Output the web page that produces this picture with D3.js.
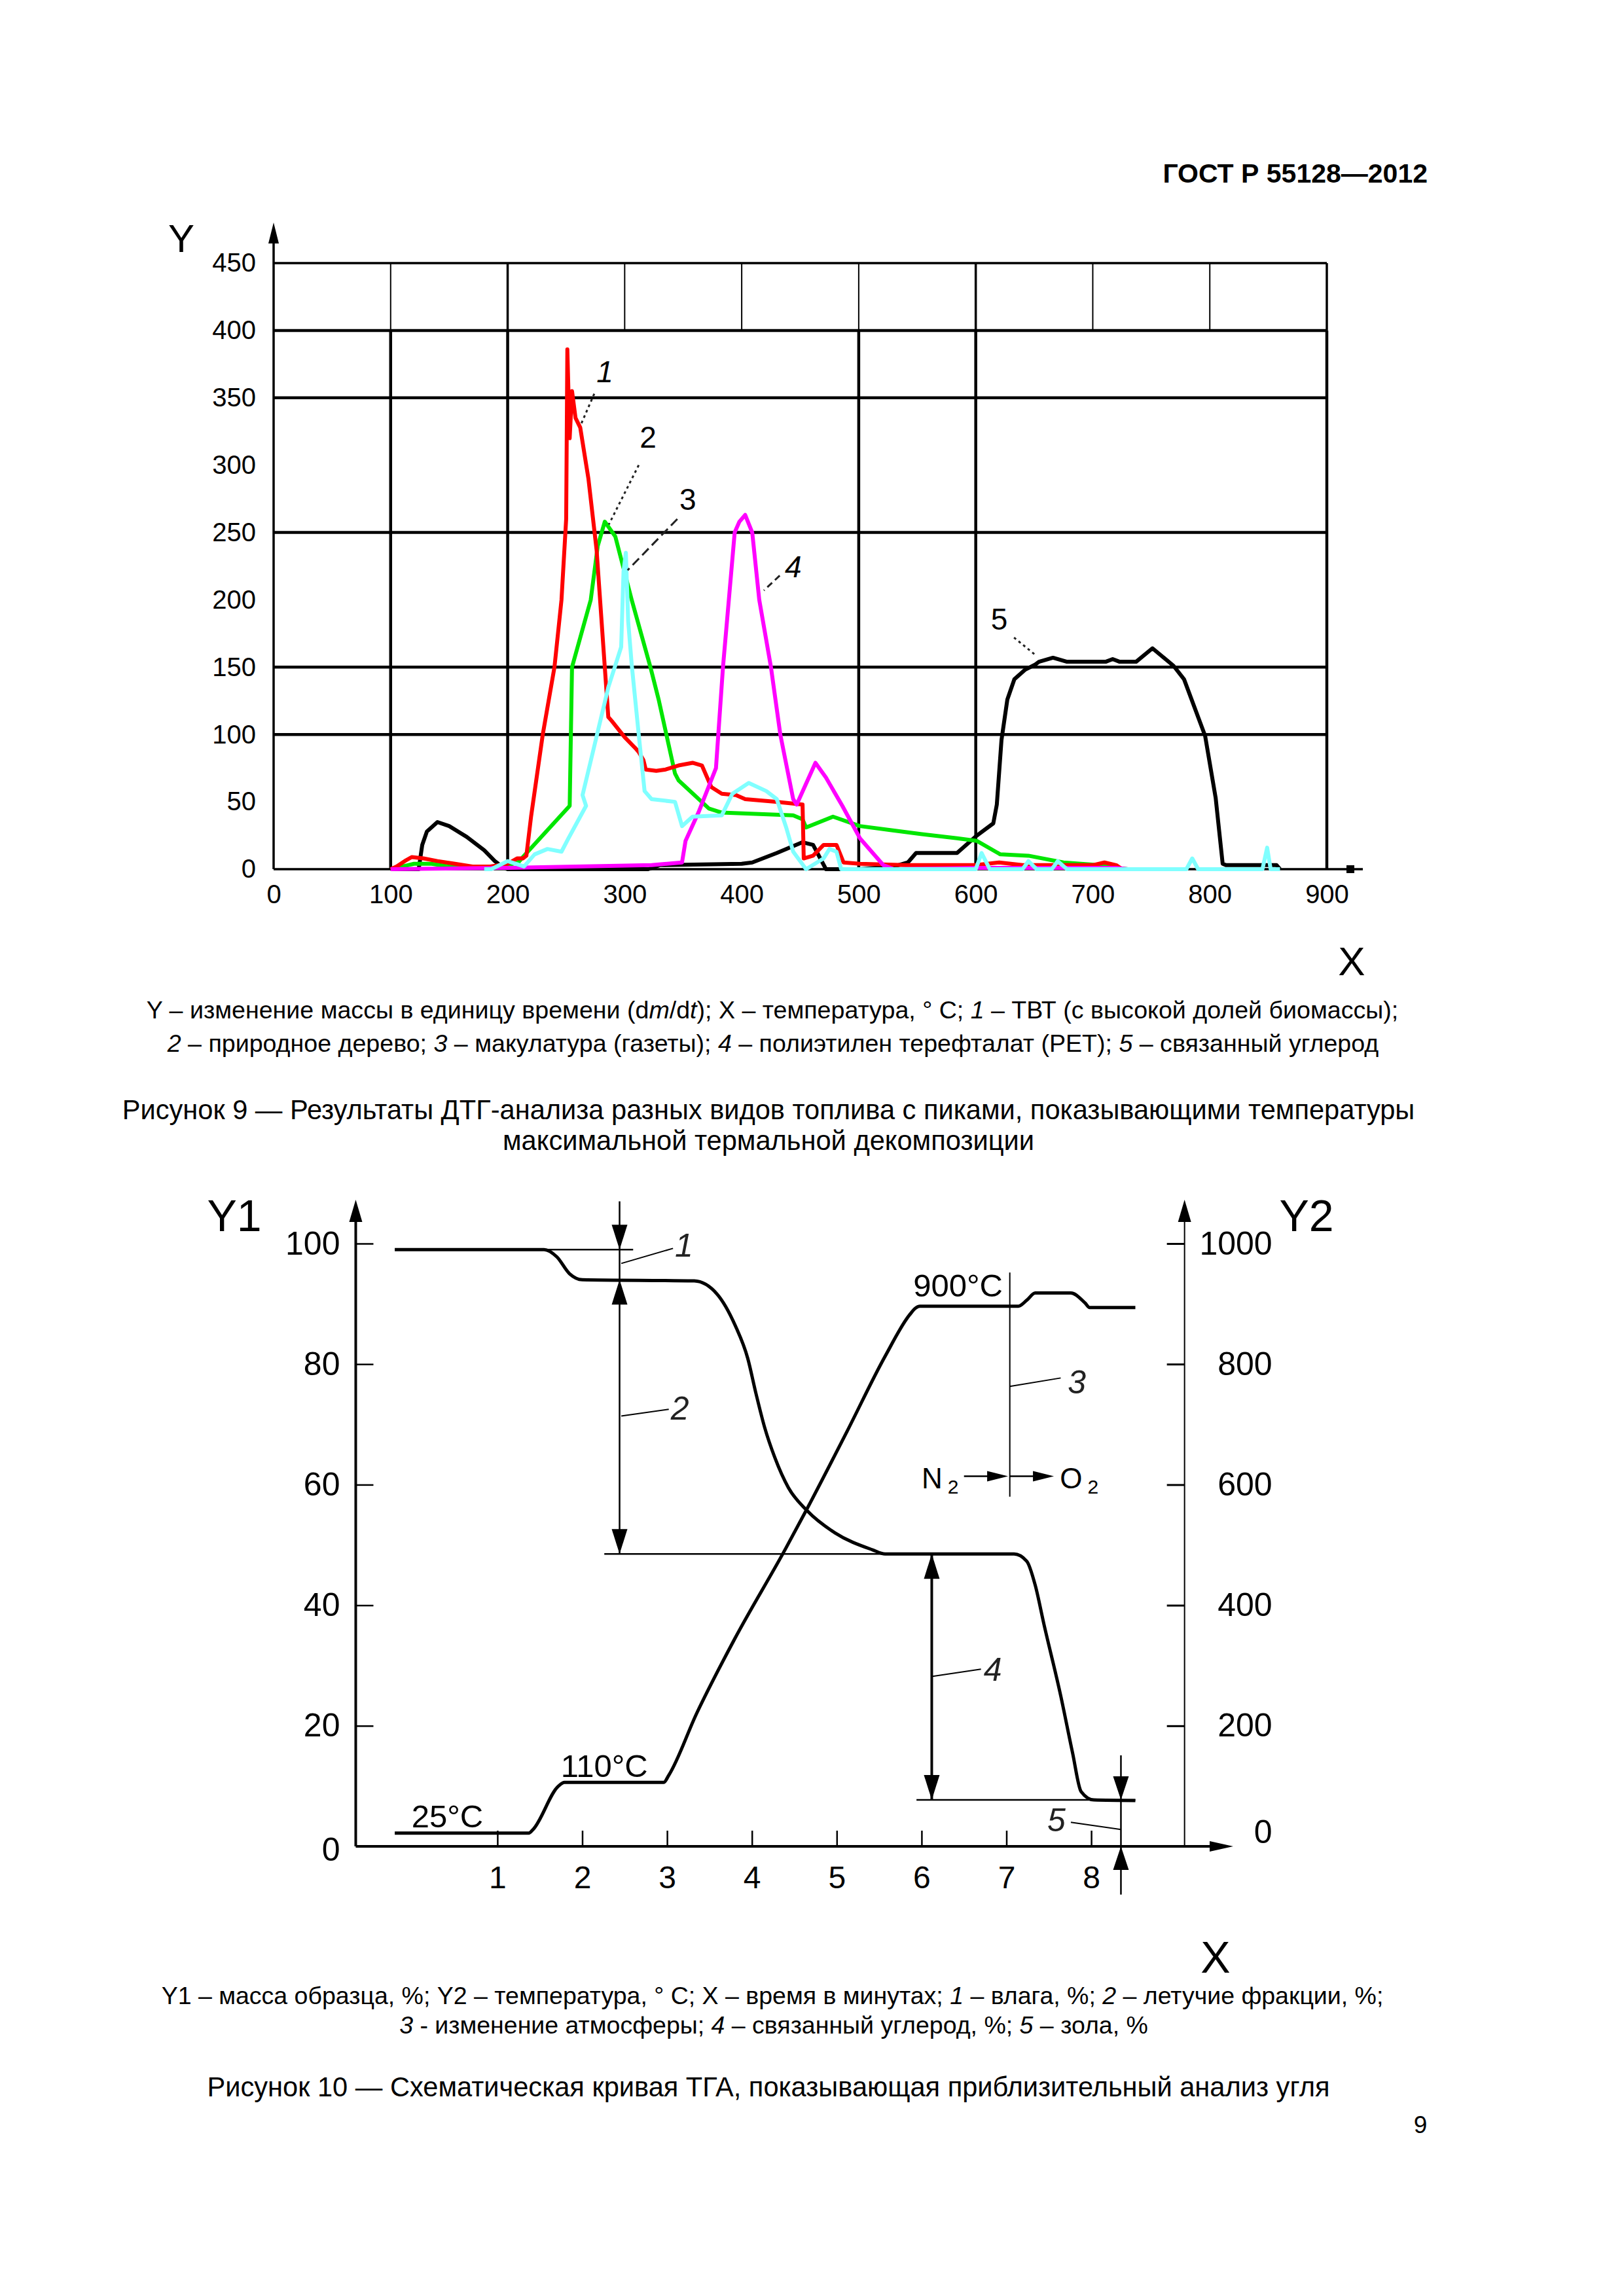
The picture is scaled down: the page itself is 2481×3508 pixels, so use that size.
<!DOCTYPE html>
<html>
<head>
<meta charset="utf-8">
<script src="https://cdn.jsdelivr.net/npm/d3@7"></script>
<style>
body { margin: 0; background: #fff; }
svg { display: block; font-family: "Liberation Sans", Arial, sans-serif; }
</style>
</head>
<body>
<div id="page"></div>
<script>
// ---------- Figure 9: DTG curves, x = temperature (°C), y = dm/dt ----------
var dtgTicksX = [0, 100, 200, 300, 400, 500, 600, 700, 800, 900];
var dtgTicksY = [0, 50, 100, 150, 200, 250, 300, 350, 400, 450];
var dtgGridY = [100, 150, 250, 350, 400, 450];
var dtgGridXMain = [100, 200, 500, 600, 900];
var dtgGridXTop = [100, 200, 300, 400, 500, 600, 700, 800, 900];

// 1 - TBT (red)
var curve1Red = [[100,0],[105,2],[112,6],[118,9],[128,8],[140,6],[155,4],[170,2],[185,2],[200,4],[208,8],[213,8],
	[216,10],[220,39],[230,100],[240,150],[246,200],[250,260],[251,386],[253,320],[255,355],[258,335],[262,328],
	[269,290],[276,237],[283,150],[286,113],[289,110],[300,98],[309,90],[312,87],[316,81],[318,74],[327,73],
	[335,74],[346,77],[358,79],[366,77],[374,61],[383,56],[395,55],[403,52],[429,50],[452,48],[453,8],[461,10],
	[470,18],[481,18],[487,5],[501,4],[540,3],[600,3],[620,5],[640,3],[700,3],[710,5],[720,3],[725,0]];
// 2 - natural wood (green)
var curve2Green = [[100,0],[110,2],[120,4],[135,4],[150,2],[170,1],[190,1],[200,3],[209,5],[214,10],[253,47],
	[255,150],[271,200],[277,240],[283,258],[292,247],[306,200],[322,150],[329,126],[343,71],[346,66],[372,45],
	[383,42],[444,40],[452,37],[455,31],[478,39],[501,32],[527,29],[554,26],[584,23],[601,21],[621,11],[645,10],
	[675,5],[705,3],[720,1],[730,0]];
// 3 - newspaper (cyan)
var curve3Cyan = [[180,0],[186,0],[200,6],[214,2],[223,11],[234,15],[246,13],[252,23],[267,47],[264,55],[272,84],
	[286,135],[297,165],[299,221],[301,235],[303,184],[306,152],[312,100],[317,58],[323,52],[343,50],[349,32],
	[358,39],[383,40],[392,56],[406,64],[421,58],[430,52],[438,31],[444,13],[455,0],[470,8],[475,15],[481,13],
	[485,0],[600,0],[605,12],[612,0],[640,0],[645,6],[652,0],[665,0],[670,6],[678,0],[780,0],[785,8],[790,0],
	[845,0],[849,16],[852,0],[860,0]];
// 4 - PET (magenta)
var curve4Magenta = [[100,0],[200,1],[323,3],[349,5],[352,21],[363,42],[378,75],[384,150],[389,200],[394,250],
	[398,258],[403,263],[409,250],[415,200],[425,150],[433,100],[444,52],[447,48],[463,79],[472,68],[486,47],
	[501,23],[521,3],[530,0],[600,1],[720,1],[730,0]];
// 5 - fixed carbon (black)
var curve5Black = [[100,0],[124,0],[127,18],[131,28],[140,35],[150,32],[165,24],[180,14],[189,6],[195,2],[200,0],
	[320,0],[330,3],[400,4],[409,5],[430,12],[452,20],[461,18],[472,0],[500,0],[530,2],[542,5],[549,12],[584,12],
	[601,25],[615,34],[618,48],[622,96],[627,126],[633,141],[642,148],[651,152],[654,154],[666,157],[678,154],
	[711,154],[717,156],[723,154],[737,154],[751,164],[769,151],[778,141],[796,99],[805,53],[811,4],[814,3],
	[857,3],[860,0]];

// ---------- Figure 10: TGA curve, x = time (min) ----------
var tgaTicksX = [1, 2, 3, 4, 5, 6, 7, 8];
var tgaTicksY1 = [0, 20, 40, 60, 80, 100];
var tgaTicksY2 = [0, 200, 400, 600, 800, 1000];

// sample mass, %
var massTime  = [-0.21, 1.55, 1.7, 1.85, 2.0, 3.32, 3.59, 3.8, 3.95, 4.05, 4.15, 4.27, 4.43, 4.65, 4.98, 5.42, 5.57,
	7.09, 7.24, 7.34, 7.44, 7.64, 7.78, 7.88, 8.03, 8.52];
var massValue = [99, 99, 97.8, 95, 94, 93.8, 91.6, 86.5, 81, 75, 69.5, 64.5, 59.5, 55.7, 52, 49.2, 48.5,
	48.5, 47.3, 43.3, 37, 25, 15.5, 9.1, 7.7, 7.6];

// temperature, °C
var tempTime  = [-0.21, 1.37, 1.42, 1.72, 1.79, 2.96, 3.02, 3.35, 3.8, 4.39, 4.65, 5.12, 5.57, 5.86, 5.93, 5.98,
	7.14, 7.24, 7.34, 7.76, 7.93, 7.98, 8.52];
var tempValue = [22, 22, 28, 100, 106, 106, 118, 221, 345, 492, 560, 688, 813, 882, 893, 896,
	896, 906, 918, 918, 901, 894, 894];


var svg = d3.select("#page").append("svg")
	.attr("width", 2481).attr("height", 3508)
	.attr("viewBox", "0 0 2481 3508");
svg.append("rect").attr("width", 2481).attr("height", 3508).attr("fill", "#fff");

function arrowHead(g, tx, ty, dir, len, half) {
	var p;
	if (dir == "up") p = [[tx,ty],[tx-half,ty+len],[tx+half,ty+len]];
	if (dir == "down") p = [[tx,ty],[tx-half,ty-len],[tx+half,ty-len]];
	if (dir == "right") p = [[tx,ty],[tx-len,ty-half],[tx-len,ty+half]];
	g.append("path").attr("d", "M" + p.join("L") + "Z").attr("fill", "#000");
}

function seg(g, x1, y1, x2, y2, w) {
	return g.append("line")
		.attr("x1", x1).attr("y1", y1).attr("x2", x2).attr("y2", y2)
		.attr("stroke", "#000").attr("stroke-width", w);
}

function styleAxis(ax, size) {
	ax.select(".domain").remove();
	ax.attr("font-family", null).attr("font-size", size);
	ax.selectAll("text").attr("fill", "#000");
	ax.selectAll(".tick line").attr("stroke", "#000");
}

function drawDtgChart(svg) {
	var g = svg.append("g");
	var x = d3.scaleLinear().domain([0, 900]).range([418, 2027]);
	var y = d3.scaleLinear().domain([0, 450]).range([1328, 402]);

	// grid
	g.selectAll("line.gy").data(dtgGridY).enter().append("line")
		.attr("x1", x(0)).attr("x2", x(900))
		.attr("y1", function(d) { return y(d); }).attr("y2", function(d) { return y(d); })
		.attr("stroke", "#000").attr("stroke-width", function(d) { return d == 450 ? 3.5 : 4.5; });
	g.selectAll("line.gxm").data(dtgGridXMain).enter().append("line")
		.attr("x1", function(d) { return x(d); }).attr("x2", function(d) { return x(d); })
		.attr("y1", y(0)).attr("y2", y(400))
		.attr("stroke", "#000").attr("stroke-width", 4.5);
	g.selectAll("line.gxt").data(dtgGridXTop).enter().append("line")
		.attr("x1", function(d) { return x(d); }).attr("x2", function(d) { return x(d); })
		.attr("y1", y(400)).attr("y2", y(450))
		.attr("stroke", "#000")
		.attr("stroke-width", function(d) { return (d == 200 || d == 600 || d == 900) ? 3.5 : 2; });

	// axes
	seg(g, x(0), y(0), 2082, y(0), 3.5);
	g.append("rect").attr("x", 2057).attr("y", y(0) - 6).attr("width", 12).attr("height", 12).attr("fill", "#000");
	seg(g, x(0), y(0), x(0), 370, 3.5);
	arrowHead(g, x(0), 340, "up", 32, 8);

	var ax = g.append("g").attr("transform", "translate(0," + y(0) + ")")
		.call(d3.axisBottom(x).tickValues(dtgTicksX).tickFormat(d3.format("d")).tickSize(0).tickPadding(24));
	styleAxis(ax, 40);
	var ay = g.append("g").attr("transform", "translate(" + x(0) + ",0)")
		.call(d3.axisLeft(y).tickValues(dtgTicksY).tickFormat(d3.format("d")).tickSize(0).tickPadding(27));
	styleAxis(ay, 40);

	g.append("text").attr("x", x(0) - 141).attr("y", y(450) - 17)
		.attr("text-anchor", "middle").attr("font-size", 60).text("Y");
	g.append("text").attr("x", 2065).attr("y", 1490)
		.attr("text-anchor", "middle").attr("font-size", 62).text("X");

	// curves
	var line = d3.line().x(function(d) { return x(d[0]); }).y(function(d) { return y(d[1]); });
	var series = [
		{ pts: curve5Black, color: "#000000" },
		{ pts: curve2Green, color: "#00e600" },
		{ pts: curve1Red, color: "#ff0000" },
		{ pts: curve4Magenta, color: "#ff00ff" },
		{ pts: curve3Cyan, color: "#80ffff" }
	];
	g.selectAll("path.curve").data(series).enter().append("path")
		.attr("class", "curve")
		.attr("d", function(d) { return line(d.pts); })
		.attr("fill", "none")
		.attr("stroke", function(d) { return d.color; })
		.attr("stroke-width", 6)
		.attr("stroke-linejoin", "round");

	// curve numbers with leaders
	var labels = [
		{ t: "1", at: [283, 370], from: [274, 353], to: [262, 329], dash: "4,5", italic: true },
		{ t: "2", at: [320, 321], from: [312, 300], to: [286.5, 256], dash: "4,5", italic: false },
		{ t: "3", at: [354, 275], from: [345, 260], to: [302.5, 222], dash: "14,7", italic: false },
		{ t: "4", at: [444, 225], from: [432.5, 218], to: [419, 207], dash: "10,6", italic: true },
		{ t: "5", at: [620, 186], from: [632.7, 172], to: [651, 159], dash: "4,5", italic: false }
	];
	labels.forEach(function(l) {
		g.append("line")
			.attr("x1", x(l.from[0])).attr("y1", y(l.from[1]))
			.attr("x2", x(l.to[0])).attr("y2", y(l.to[1]))
			.attr("stroke", "#222").attr("stroke-width", 3)
			.attr("stroke-dasharray", l.dash);
		g.append("text").attr("x", x(l.at[0])).attr("y", y(l.at[1]) + 17)
			.attr("text-anchor", "middle").attr("font-size", 46)
			.attr("font-style", l.italic ? "italic" : "normal")
			.text(l.t);
	});
}

function drawTgaChart(svg) {
	var g = svg.append("g");
	var x = d3.scaleLinear().domain([1, 8]).range([759.9, 1667.1]);
	var y1 = d3.scaleLinear().domain([0, 100]).range([2821, 1900]);
	var y2 = d3.scaleLinear().domain([0, 1000]).range([2821, 1900]);
	var xL = x(-0.67), xR = x(9.1), y0 = y1(0);

	// axis lines with arrows
	seg(g, xL, y0, xL, 1862, 4);
	arrowHead(g, xL, 1833, "up", 34, 10);
	seg(g, xR, y0, xR, 1862, 2);
	arrowHead(g, xR, 1833, "up", 34, 10);
	seg(g, xL, y0, 1852, y0, 4);
	arrowHead(g, 1884, y0, "right", 36, 8);

	var ax = g.append("g").attr("transform", "translate(0," + y0 + ")")
		.call(d3.axisBottom(x).tickValues(tgaTicksX).tickFormat(d3.format("d")).tickSize(-24).tickPadding(30));
	styleAxis(ax, 48);
	ax.selectAll(".tick line").attr("stroke-width", 2.5);

	var a1 = g.append("g").attr("transform", "translate(" + xL + ",0)")
		.call(d3.axisLeft(y1).tickValues(tgaTicksY1).tickFormat(d3.format("d")).tickSize(-27).tickPadding(24));
	styleAxis(a1, 50);
	a1.selectAll(".tick line").attr("stroke-width", 2.5)
		.filter(function(d) { return d == 0; }).remove();
	a1.selectAll(".tick text").filter(function(d) { return d == 0; }).attr("dy", "0.42em");

	var a2 = g.append("g").attr("transform", "translate(" + xR + ",0)")
		.call(d3.axisRight(y2).tickValues(tgaTicksY2).tickFormat(d3.format("d")).tickSize(-27));
	styleAxis(a2, 50);
	a2.selectAll(".tick line").attr("stroke-width", 3)
		.filter(function(d) { return d == 0; }).remove();
	a2.selectAll(".tick text").attr("x", 134).attr("text-anchor", "end");
	a2.selectAll(".tick text").filter(function(d) { return d == 0; }).attr("y", -22);

	g.append("text").attr("x", 358).attr("y", 1881).attr("text-anchor", "middle").attr("font-size", 68).text("Y1");
	g.append("text").attr("x", 1996).attr("y", 1881).attr("text-anchor", "middle").attr("font-size", 68).text("Y2");
	g.append("text").attr("x", 1857).attr("y", 3014).attr("text-anchor", "middle").attr("font-size", 68).text("X");

	// curves
	var mass = massTime.map(function(t, i) { return [t, massValue[i]]; });
	var temp = tempTime.map(function(t, i) { return [t, tempValue[i]]; });
	g.append("path")
		.attr("d", d3.line().curve(d3.curveMonotoneX)
			.x(function(d) { return x(d[0]); }).y(function(d) { return y1(d[1]); })(mass))
		.attr("fill", "none").attr("stroke", "#000").attr("stroke-width", 5);
	g.append("path")
		.attr("d", d3.line().curve(d3.curveMonotoneX)
			.x(function(d) { return x(d[0]); }).y(function(d) { return y2(d[1]); })(temp))
		.attr("fill", "none").attr("stroke", "#000").attr("stroke-width", 5);

	// annotation lines
	var thin = 2.5;
	seg(g, x(1.55), y1(99), x(2.6), y1(99), thin);
	seg(g, x(2.26), y1(48.5), x(5.57), y1(48.5), thin);
	seg(g, x(5.94), y1(7.7), x(8.52), y1(7.7), thin);

	// 1 and 2: moisture / volatiles
	seg(g, x(2.44), y1(107), x(2.44), y1(48.5), thin);
	arrowHead(g, x(2.44), y1(99), "down", 38, 12);
	arrowHead(g, x(2.44), y1(94), "up", 38, 12);
	arrowHead(g, x(2.44), y1(48.5), "down", 38, 12);

	// 3: atmosphere change
	seg(g, x(7.04), y1(95.2), x(7.04), y1(58), 2);
	seg(g, x(6.5), y1(61.4), x(6.8), y1(61.4), thin);
	arrowHead(g, x(7.02), y1(61.4), "right", 32, 8);
	seg(g, x(7.04), y1(61.4), x(7.36), y1(61.4), thin);
	arrowHead(g, x(7.56), y1(61.4), "right", 32, 8);

	// 4: fixed carbon
	seg(g, x(6.12), y1(48.5), x(6.12), y1(7.7), 4);
	arrowHead(g, x(6.12), y1(48.5), "up", 38, 12);
	arrowHead(g, x(6.12), y1(7.7), "down", 38, 12);

	// 5: ash
	seg(g, x(8.35), y1(15.1), x(8.35), y1(-8), thin);
	arrowHead(g, x(8.35), y1(7.7), "down", 36, 12);
	arrowHead(g, x(8.35), y1(0), "up", 36, 12);

	// leaders and numbers
	var leaders = [
		{ t: "1", at: [3.2, 99.8], from: [2.46, 96.7], to: [3.07, 99.2] },
		{ t: "2", at: [3.15, 72.7], from: [2.46, 71.4], to: [3.02, 72.5] },
		{ t: "3", at: [7.83, 77.1], from: [7.04, 76.3], to: [7.64, 77.7] },
		{ t: "4", at: [6.84, 29.4], from: [6.13, 28.2], to: [6.7, 29.4] },
		{ t: "5", at: [7.59, 4.4], from: [7.76, 4.0], to: [8.35, 2.8] }
	];
	leaders.forEach(function(l) {
		seg(g, x(l.from[0]), y1(l.from[1]), x(l.to[0]), y1(l.to[1]), 2);
		g.append("text").attr("x", x(l.at[0])).attr("y", y1(l.at[1]) + 18)
			.attr("text-anchor", "middle").attr("font-size", 50).attr("font-style", "italic")
			.attr("fill", "#222").text(l.t);
	});

	// temperature marks
	g.append("text").attr("x", x(0.41)).attr("y", y1(3.2)).attr("text-anchor", "middle").attr("font-size", 49).text("25°C");
	g.append("text").attr("x", x(2.26)).attr("y", y1(11.5)).attr("text-anchor", "middle").attr("font-size", 49).text("110°C");
	g.append("text").attr("x", x(6.43)).attr("y", y1(91.2)).attr("text-anchor", "middle").attr("font-size", 49).text("900°C");

	// gases
	var n2 = g.append("text").attr("x", x(6.0)).attr("y", y1(59.4)).attr("font-size", 44);
	n2.append("tspan").text("N");
	n2.append("tspan").attr("dx", 8).attr("dy", 8).attr("font-size", 30).text("2");
	var o2 = g.append("text").attr("x", x(7.63)).attr("y", y1(59.4)).attr("font-size", 44);
	o2.append("tspan").text("O");
	o2.append("tspan").attr("dx", 8).attr("dy", 8).attr("font-size", 30).text("2");
}

function drawTexts(svg) {
	var g = svg.append("g").attr("fill", "#000");
	g.append("text").attr("x", 2181).attr("y", 279).attr("text-anchor", "end")
		.attr("font-size", 41).attr("font-weight", "bold").text("ГОСТ Р 55128—2012");

	function richLine(x, y, size, parts) {
		var t = g.append("text").attr("x", x).attr("y", y).attr("text-anchor", "middle").attr("font-size", size);
		parts.forEach(function(p) {
			var s = t.append("tspan").text(p[0]);
			if (p[1]) s.attr("font-style", "italic");
		});
	}

	richLine(1180, 1556, 37.6, [["Y – изменение массы в единицу времени (d"], ["m", 1], ["/d"], ["t", 1],
		["); X – температура, ° C; "], ["1", 1], [" – ТВТ (с высокой долей биомассы);"]]);
	richLine(1181, 1607, 37.6, [["2", 1], [" – природное дерево; "], ["3", 1], [" – макулатура (газеты); "],
		["4", 1], [" – полиэтилен терефталат (PET); "], ["5", 1], [" – связанный углерод"]]);
	richLine(1174, 1710, 41.6, [["Рисунок 9 — Результаты ДТГ-анализа разных видов топлива с пиками, показывающими температуры"]]);
	richLine(1174, 1757, 41.6, [["максимальной термальной декомпозиции"]]);

	richLine(1180, 3062, 37.5, [["Y1 – масса образца, %; Y2 – температура, ° C; X – время в минутах; "], ["1", 1],
		[" – влага, %; "], ["2", 1], [" – летучие фракции, %;"]]);
	richLine(1182, 3107, 37.5, [["3", 1], [" - изменение атмосферы; "], ["4", 1], [" – связанный углерод, %; "],
		["5", 1], [" – зола, %"]]);
	richLine(1174, 3203, 41.6, [["Рисунок 10 — Схематическая кривая ТГА, показывающая приблизительный анализ угля"]]);
	richLine(2170, 3259, 37, [["9"]]);
}

drawDtgChart(svg);
drawTgaChart(svg);
drawTexts(svg);
</script>
</body>
</html>
